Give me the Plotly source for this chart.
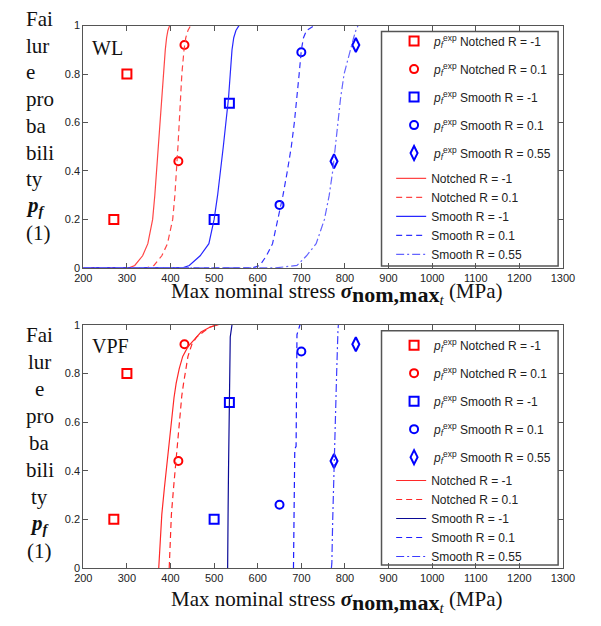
import plotly.graph_objects as go

W, H = 601, 626


def px(x):
    return x / W


def py(y):
    return 1 - y / H


# ---------------- data ----------------
series_names = ["Notched R = -1", "Notched R = 0.1", "Smooth R = -1", "Smooth R = 0.1", "Smooth R = 0.55"]

# experimental failure probabilities (same in both panels)
exp_notched_m1_x = [270, 300]
exp_notched_m1_p = [0.20, 0.80]
exp_notched_01_x = [418, 432]
exp_notched_01_p = [0.44, 0.92]
exp_smooth_m1_x = [500, 535]
exp_smooth_m1_p = [0.20, 0.68]
exp_smooth_01_x = [650, 700]
exp_smooth_01_p = [0.26, 0.89]
exp_smooth_055_x = [775, 825]
exp_smooth_055_p = [0.44, 0.92]

# WL model curves
wl_p = [0, 0, 0.01, 0.05, 0.1, 0.2, 0.3, 0.4, 0.5, 0.6, 0.7, 0.8, 0.9, 0.95, 0.98, 1]
wl_notched_m1_x = [200, 305, 318, 336, 348, 359, 364, 368, 372, 376, 379, 383, 388, 391, 394, 398]
wl_notched_01_x = [200, 345, 362, 380, 393, 405, 410, 414, 417, 420, 423, 426, 431, 435, 440, 446]
wl_smooth_m1_x = [200, 428, 443, 468, 488, 500, 508, 515, 521, 527, 533, 537, 541, 545, 550, 557]
wl_smooth_01_x = [200, 588, 605, 620, 634, 646, 658, 668, 677, 684, 690, 695, 700, 705, 712, 730]
wl_smooth_055_x = [200, 640, 690, 712, 734, 753, 764, 772, 778, 784, 790, 798, 812, 820, 825, 830]

# VPF model curves
vpf_notched_m1_x = [373, 376, 380, 386, 391, 397, 402, 408, 413, 420, 428, 440, 455, 470, 490, 510]
vpf_notched_m1_p = [0, 0.10, 0.22, 0.33, 0.42, 0.52, 0.62, 0.70, 0.76, 0.82, 0.87, 0.91, 0.94, 0.97, 0.99, 1]
vpf_notched_01_x = [397, 399, 402, 407, 412, 417, 421, 426, 430, 435, 440, 449, 460, 475, 490, 505]
vpf_notched_01_p = [0, 0.10, 0.22, 0.33, 0.44, 0.55, 0.63, 0.71, 0.76, 0.82, 0.87, 0.92, 0.95, 0.97, 0.99, 1]
vpf_smooth_m1_x = [531, 531, 532, 533, 534, 535, 537, 541]
vpf_smooth_m1_p = [0, 0.21, 0.22, 0.40, 0.60, 0.80, 0.95, 1]
vpf_smooth_01_x = [682, 683, 685, 688, 689, 690, 697]
vpf_smooth_01_p = [0, 0.25, 0.49, 0.50, 0.80, 0.96, 1]
vpf_smooth_055_x = [769, 770, 772, 775, 778, 781, 784, 785]
vpf_smooth_055_p = [0, 0.02, 0.20, 0.44, 0.62, 0.80, 0.975, 1]

x_ticks = [200, 300, 400, 500, 600, 700, 800, 900, 1000, 1100, 1200, 1300]
y_ticks = [0, 0.2, 0.4, 0.6, 0.8, 1]
ytitle_lines = ["Fai", "lur", "e", "pro", "ba", "bili", "ty", "<b><i>p</i><sub><i>f</i></sub></b>", "(1)"]

# ---------------- styles ----------------
RED = "#ff0000"
BLUE = "#0000ff"
exp_styles = [
    dict(symbol="square-open", size=9, color=RED),
    dict(symbol="circle-open", size=8, color=RED),
    dict(symbol="square-open", size=9, color=BLUE),
    dict(symbol="circle-open", size=8, color=BLUE),
    dict(symbol="diamond-tall-open", size=10, color=BLUE),
]
line_styles_top = [
    dict(color="rgb(255,70,70)", dash="solid"),
    dict(color="rgb(255,70,70)", dash="6px,4px"),
    dict(color="rgb(40,40,255)", dash="solid"),
    dict(color="rgb(50,50,255)", dash="6px,4px"),
    dict(color="rgb(100,100,255)", dash="8px,3px,2px,3px"),
]
line_styles_bot = [
    dict(color="rgb(255,40,40)", dash="solid"),
    dict(color="rgb(255,40,40)", dash="6px,4px"),
    dict(color="rgb(10,10,150)", dash="solid"),
    dict(color="rgb(30,30,255)", dash="6px,4px"),
    dict(color="rgb(60,60,255)", dash="8px,3px,2px,3px"),
]

exp_x = [exp_notched_m1_x, exp_notched_01_x, exp_smooth_m1_x, exp_smooth_01_x, exp_smooth_055_x]
exp_p = [exp_notched_m1_p, exp_notched_01_p, exp_smooth_m1_p, exp_smooth_01_p, exp_smooth_055_p]
wl_x = [wl_notched_m1_x, wl_notched_01_x, wl_smooth_m1_x, wl_smooth_01_x, wl_smooth_055_x]
vpf_x = [vpf_notched_m1_x, vpf_notched_01_x, vpf_smooth_m1_x, vpf_smooth_01_x, vpf_smooth_055_x]
vpf_p = [vpf_notched_m1_p, vpf_notched_01_p, vpf_smooth_m1_p, vpf_smooth_01_p, vpf_smooth_055_p]

fig = go.Figure()

panels = [
    dict(xa="x", ya="y", lx=wl_x, lp=[wl_p] * 5, styles=line_styles_top, leg1="legend", leg2="legend2", tag="wl"),
    dict(xa="x2", ya="y2", lx=vpf_x, lp=vpf_p, styles=line_styles_bot, leg1="legend3", leg2="legend4", tag="vpf"),
]

for pan in panels:
    for i, name in enumerate(series_names):
        st = exp_styles[i]
        fig.add_trace(go.Scatter(
            x=exp_x[i], y=exp_p[i], mode="markers", xaxis=pan["xa"], yaxis=pan["ya"],
            name="<i>p</i><sub><i>f</i></sub><sup>exp</sup> " + name,
            legend=pan["leg1"], legendgroup=pan["tag"] + str(i),
            marker=dict(symbol=st["symbol"], size=st["size"], color=st["color"],
                        line=dict(width=2, color=st["color"])),
            cliponaxis=False,
        ))
    for i, name in enumerate(series_names):
        ls = pan["styles"][i]
        fig.add_trace(go.Scatter(
            x=pan["lx"][i], y=pan["lp"][i], mode="lines", xaxis=pan["xa"], yaxis=pan["ya"],
            name=name, legend=pan["leg2"],
            line=dict(color=ls["color"], dash=ls["dash"], width=1.2),
        ))

AXC = "#555555"
tickfont = dict(family="Liberation Sans, Arial", size=11, color="#222222")
common_x = dict(range=[200, 1300], tickvals=x_ticks, showline=True, mirror="ticks", linecolor=AXC,
                linewidth=1, ticks="inside", ticklen=5, tickcolor=AXC, showgrid=False, zeroline=False,
                tickfont=tickfont)
common_y = dict(range=[0, 1], tickvals=y_ticks, showline=True, mirror="ticks", linecolor=AXC,
                linewidth=1, ticks="inside", ticklen=5, tickcolor=AXC, showgrid=False, zeroline=False,
                tickfont=tickfont)

xdom = [px(77), px(574)]
top_dom = [py(267), py(20)]
bot_dom = [py(573), py(325)]

legfont = dict(family="Liberation Sans, Arial", size=12, color="#222222")
leg_common = dict(xanchor="left", yanchor="top", bgcolor="rgba(0,0,0,0)", borderwidth=0,
                  font=legfont, itemwidth=30)

fig.update_layout(
    width=W, height=H, margin=dict(l=0, r=0, t=0, b=0),
    paper_bgcolor="white", plot_bgcolor="white",
    xaxis=dict(domain=xdom, anchor="y", **common_x),
    yaxis=dict(domain=top_dom, anchor="x", **common_y),
    xaxis2=dict(domain=xdom, anchor="y2", **common_x),
    yaxis2=dict(domain=bot_dom, anchor="x2", **common_y),
    legend=dict(x=px(399), y=py(21), tracegroupgap=9, traceorder="grouped", **leg_common),
    legend2=dict(x=px(396), y=py(161), traceorder="normal", **leg_common),
    legend3=dict(x=px(399), y=py(331), tracegroupgap=9, traceorder="grouped", **leg_common),
    legend4=dict(x=px(396), y=py(469), traceorder="normal", **leg_common),
    showlegend=True,
)

# legend boxes
for (t, b) in [(26, 265), (331, 570)]:
    fig.add_shape(type="rect", xref="paper", yref="paper", x0=px(386), x1=px(569), y0=py(b), y1=py(t),
                  line=dict(color=AXC, width=1.5), fillcolor="rgba(0,0,0,0)", layer="above")

serif = "Liberation Serif, Times New Roman, serif"
ann = []
# panel labels
ann.append(dict(text="WL", x=px(84), y=py(43), xref="paper", yref="paper", xanchor="left", yanchor="middle",
                showarrow=False, font=dict(family=serif, size=20, color="#111")))
ann.append(dict(text="VPF", x=px(84), y=py(347), xref="paper", yref="paper", xanchor="left", yanchor="middle",
                showarrow=False, font=dict(family=serif, size=20, color="#111")))
# x titles
xt = ("Max nominal stress <b><i>σ</i></b><sub><span style='font-size:22px'><b>nom,max</b></span>"
      "<sub><i><span style='font-size:15px'>t</span></i></sub></sub> (MPa)")
for yc in (293, 607):
    ann.append(dict(text=xt, x=px(340), y=py(yc), xref="paper", yref="paper", xanchor="center",
                    yanchor="middle", showarrow=False, font=dict(family=serif, size=21, color="#111")))
# y titles
for k, line in enumerate(ytitle_lines):
    ann.append(dict(text=line, x=px(16), y=py(13 + k * 27.3), xref="paper", yref="paper", xanchor="left",
                    yanchor="middle", showarrow=False, font=dict(family=serif, size=21, color="#111")))
    ann.append(dict(text=line, x=px(32), y=py(335 + k * 27.6), xref="paper", yref="paper", xanchor="center",
                    yanchor="middle", showarrow=False, font=dict(family=serif, size=21, color="#111")))
fig.update_layout(annotations=ann)

fig.write_html("out.html")
